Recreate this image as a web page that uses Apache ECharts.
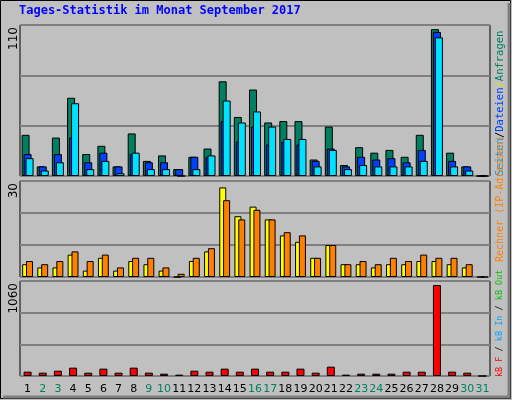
<!DOCTYPE html>
<html>
<head>
<meta charset="utf-8">
<script src="https://cdn.jsdelivr.net/npm/echarts@6/dist/echarts.min.js"></script>
<style>
  html, body { margin: 0; padding: 0; background: #c0c0c0; }
  #main { width: 512px; height: 400px; }
</style>
</head>
<body>
<div id="main"></div>
<script>
// Tage des Monats
var days = ['1','2','3','4','5','6','7','8','9','10','11','12','13','14','15','16',
  '17','18','19','20','21','22','23','24','25','26','27','28','29','30','31'];
var weekend = ['2','3','9','10','16','17','23','24','30','31'];

var anfragen = [30,7,28,57,16,22,7,31,11,15,5,14,20,69,43,63,39,40,40,12,36,8,21,17,19,14,30,107,17,7,0];
var dateien  = [16,7,16,28,10,17,7,16,10,10,5,14,14,40,25,36,23,25,23,11,20,7,14,12,13,10,19,105,11,7,0];
var seiten   = [13,4,10,53,5,11,2,17,5,5,0,5,15,55,39,47,36,27,27,7,19,5,8,7,7,7,11,101,7,4,0];

var besuche  = [4,3,3,7,2,6,2,5,4,2,0,5,8,28,19,22,18,13,11,6,10,4,4,3,4,4,5,5,4,3,0];
var rechner  = [5,4,5,8,5,7,3,6,6,3,1,6,9,24,18,21,18,14,13,6,10,4,5,4,6,5,7,6,6,4,0];

var kbF = [48,37,59,93,37,82,37,93,37,26,15,59,48,82,48,82,48,48,82,37,104,15,26,26,26,48,48,1015,48,37,0];

var maxLabels = ['110', '30', '1060'];
var maxValues = [110, 30, 1060];

var myChart = echarts.init(document.getElementById('main'));
var mono = 'DejaVu Sans Mono';

var grids = [
  { left: 20, right: 22, top: 25, height: 151 },
  { left: 20, right: 22, top: 181, height: 96 },
  { left: 20, right: 22, top: 281, height: 95 }
];
grids.forEach(function (g) {
  g.show = true;
  g.backgroundColor = '#c0c0c0';
  g.borderColor = '#000';
  g.borderWidth = 1;
});

function xAx (i, showLabel) {
  return {
    type: 'category', gridIndex: i, data: days,
    axisLine: { show: false }, axisTick: { show: false },
    axisLabel: {
      show: showLabel, interval: 0, fontFamily: 'DejaVu Sans', fontSize: 11, margin: 8,
      color: function (v) { return weekend.indexOf(v) >= 0 ? '#008060' : '#000'; }
    }
  };
}
function yAx (i) {
  return {
    type: 'value', gridIndex: i, min: 0, max: maxValues[i], interval: maxValues[i] / 3,
    axisLabel: { show: false }, axisLine: { show: false }, axisTick: { show: false },
    splitLine: { lineStyle: { color: '#808080', width: 2 } }
  };
}
function bar (name, data, i, color, width, gap) {
  return {
    name: name, type: 'bar', xAxisIndex: i, yAxisIndex: i, data: data,
    barWidth: width, barGap: gap,
    itemStyle: { color: color, borderColor: '#000', borderWidth: 1 },
    animation: false
  };
}

var graphics = [
  { type: 'rect', shape: { x: 0.5, y: 0.5, width: 510, height: 398 },
    style: { fill: 'none', stroke: '#000', lineWidth: 1 } },
  { type: 'polyline', shape: { points: [[509, 3], [509, 397], [3, 397]] },
    style: { stroke: '#808080', lineWidth: 3, fill: 'none' } },
  { type: 'text', left: 19, top: 5,
    style: { text: 'Tages-Statistik im Monat September 2017', fill: '#0000ff',
      font: 'bold 12px ' + mono } }
];
maxLabels.forEach(function (t, i) {
  graphics.push({ type: 'text', x: 8, y: grids[i].top + 2, rotation: Math.PI / 2,
    style: { text: t, fill: '#000', font: '12px DejaVu Sans', align: 'right', verticalAlign: 'top' } });
});
function mkRich (size) {
  var f = size + 'px ' + mono;
  return {
    g: { fill: '#008060', font: f }, b: { fill: '#0040ff', font: f },
    c: { fill: '#00a0ff', font: f }, k: { fill: '#000', font: f },
    y: { fill: '#e0e000', font: f }, o: { fill: '#ff8000', font: f },
    r: { fill: '#ff0000', font: f }, l: { fill: '#00c000', font: f }
  };
}
function sideText (y, size, parts) {
  graphics.push({ type: 'text', x: 495, y: y, rotation: Math.PI / 2,
    style: { text: parts, font: size + 'px ' + mono, align: 'left', verticalAlign: 'top', rich: mkRich(size) } });
}
sideText(176, 10.5, '{c|Seiten}{k|/}{b|Dateien}{y|/}{g|Anfragen}');
sideText(262, 10, '{o|Rechner (IP-Adressen)}');
sideText(377, 8.5, '{r|kB F} {k|/} {c|kB In} {k|/} {l|kB Out}');

myChart.setOption({
  backgroundColor: '#c0c0c0',
  animation: false,
  grid: grids,
  xAxis: [xAx(0, false), xAx(1, false), xAx(2, true)],
  yAxis: [yAx(0), yAx(1), yAx(2)],
  series: [
    bar('Anfragen', anfragen, 0, '#008060', 8, '-75%'),
    bar('Dateien', dateien, 0, '#0040ff', 8, '-75%'),
    bar('Seiten', seiten, 0, '#00e0ff', 8, '-75%'),
    bar('Besuche', besuche, 1, '#ffff00', 7, '-45%'),
    bar('Rechner', rechner, 1, '#ff8000', 7, '-45%'),
    bar('kB F', kbF, 2, '#ff0000', 8, '0%')
  ],
  graphic: graphics
});
window.addEventListener('resize', function () {
  myChart.resize();
});
</script>
</body>
</html>
